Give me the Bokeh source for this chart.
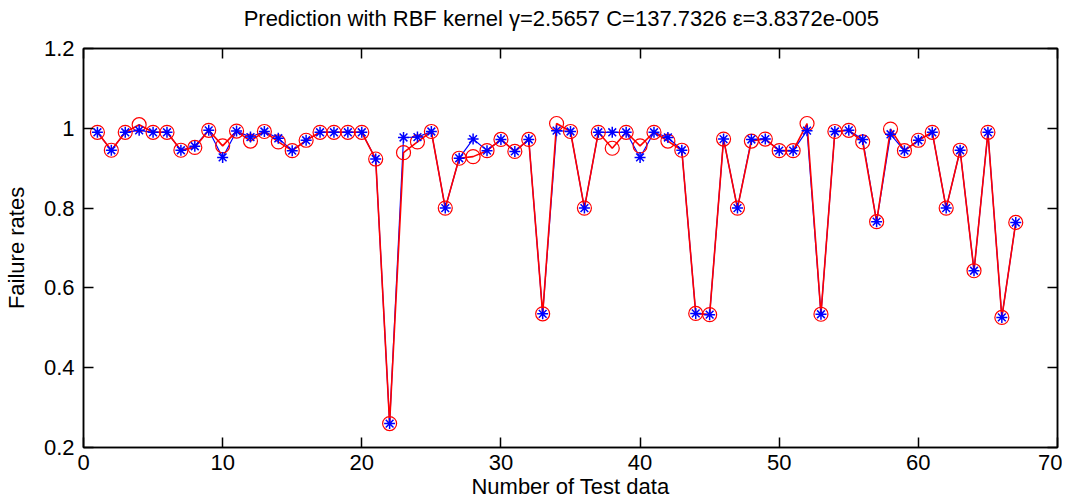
from bokeh.plotting import figure
from bokeh.models import Range1d, FixedTicker, LinearAxis
from bokeh.embed import file_html
from bokeh.resources import INLINE

idx = list(range(1, 68))
actual = [0.99, 0.945, 0.99, 0.995, 0.99, 0.99, 0.945, 0.955, 0.995, 0.927,
          0.993, 0.978, 0.992, 0.975, 0.944, 0.97, 0.99, 0.99, 0.99, 0.99,
          0.923, 0.26, 0.977, 0.978, 0.992, 0.80, 0.925, 0.973, 0.944, 0.972,
          0.942, 0.972, 0.535, 0.994, 0.992, 0.80, 0.99, 0.99, 0.99, 0.927,
          0.99, 0.977, 0.945, 0.536, 0.533, 0.973, 0.80, 0.972, 0.973, 0.944,
          0.944, 0.994, 0.534, 0.992, 0.995, 0.972, 0.766, 0.985, 0.944, 0.970,
          0.99, 0.80, 0.945, 0.643, 0.99, 0.526, 0.764]
predicted = [0.99, 0.945, 0.99, 1.009, 0.99, 0.99, 0.945, 0.952, 0.995, 0.956,
             0.993, 0.968, 0.992, 0.966, 0.944, 0.97, 0.99, 0.99, 0.99, 0.99,
             0.923, 0.26, 0.939, 0.966, 0.992, 0.80, 0.925, 0.929, 0.944, 0.972,
             0.942, 0.972, 0.535, 1.012, 0.992, 0.80, 0.99, 0.95, 0.99, 0.956,
             0.99, 0.968, 0.945, 0.536, 0.533, 0.973, 0.80, 0.968, 0.973, 0.944,
             0.944, 1.012, 0.534, 0.992, 0.995, 0.966, 0.766, 0.998, 0.944, 0.970,
             0.99, 0.80, 0.945, 0.643, 0.99, 0.526, 0.764]

x_ticks = [0, 10, 20, 30, 40, 50, 60, 70]
y_ticks = [0.2, 0.4, 0.6, 0.8, 1.0, 1.2]
y_labels = ["0.2", "0.4", "0.6", "0.8", "1", "1.2"]
x_title = "Number of Test data"
y_title = "Failure rates"
chart_title = "Prediction with RBF kernel  \u03b3=2.5657 C=137.7326   \u03b5=3.8372e-005"

FONT = "Liberation Sans"

p = figure(width=1062, height=501, output_backend="svg", toolbar_location=None,
           x_range=Range1d(0, 70), y_range=Range1d(0.2, 1.2),
           min_border_left=83, min_border_right=5, min_border_top=48, min_border_bottom=54)

p.xgrid.visible = False
p.ygrid.visible = False
p.outline_line_color = "black"
p.outline_line_width = 1.5

for ax in (p.xaxis[0], p.yaxis[0]):
    ax.major_tick_in = 10
    ax.major_tick_out = 0
    ax.minor_tick_line_color = None
    ax.axis_line_color = "black"
    ax.axis_line_width = 1.5
    ax.major_tick_line_width = 1.5
    ax.major_label_text_font = FONT
    ax.major_label_text_font_size = "22px"
    ax.major_label_text_color = "black"
    ax.axis_label_text_font = FONT
    ax.axis_label_text_font_size = "22px"
    ax.axis_label_text_font_style = "normal"
    ax.axis_label_text_color = "black"

p.xaxis[0].ticker = FixedTicker(ticks=x_ticks)
p.yaxis[0].ticker = FixedTicker(ticks=y_ticks)
p.yaxis[0].major_label_overrides = {t: l for t, l in zip(y_ticks, y_labels)}
p.xaxis[0].axis_label = x_title
p.yaxis[0].axis_label = y_title
p.xaxis[0].major_label_standoff = 7
p.xaxis[0].axis_label_standoff = 1
p.xaxis[0].axis_label_text_line_height = 0.7
p.yaxis[0].major_label_standoff = 9
p.yaxis[0].axis_label_standoff = 12

# top axis carries the chart title as its label
top = LinearAxis(ticker=FixedTicker(ticks=x_ticks), major_tick_in=10, major_tick_out=0,
                 minor_tick_line_color=None, major_label_text_font_size="0px",
                 major_label_standoff=0, axis_line_width=1.5, major_tick_line_width=1.5,
                 axis_label=chart_title, axis_label_standoff=18,
                 axis_label_text_font=FONT, axis_label_text_font_size="22px",
                 axis_label_text_font_style="normal", axis_label_text_color="black")
right = LinearAxis(ticker=FixedTicker(ticks=y_ticks), major_tick_in=10, major_tick_out=0,
                   minor_tick_line_color=None, major_label_text_font_size="0px",
                   major_label_standoff=0, axis_line_width=1.5, major_tick_line_width=1.5)
p.add_layout(top, "above")
p.add_layout(right, "right")

p.line(idx, actual, line_color="blue", line_width=1.2)
p.line(idx, predicted, line_color="red", line_width=1.6)
p.scatter(idx, predicted, marker="circle", size=14, fill_color=None, line_color="red", line_width=1.2)
p.scatter(idx, actual, marker="asterisk", size=11, line_color="blue", line_width=1.5)

open("out.html", "w").write(file_html(p, INLINE))
